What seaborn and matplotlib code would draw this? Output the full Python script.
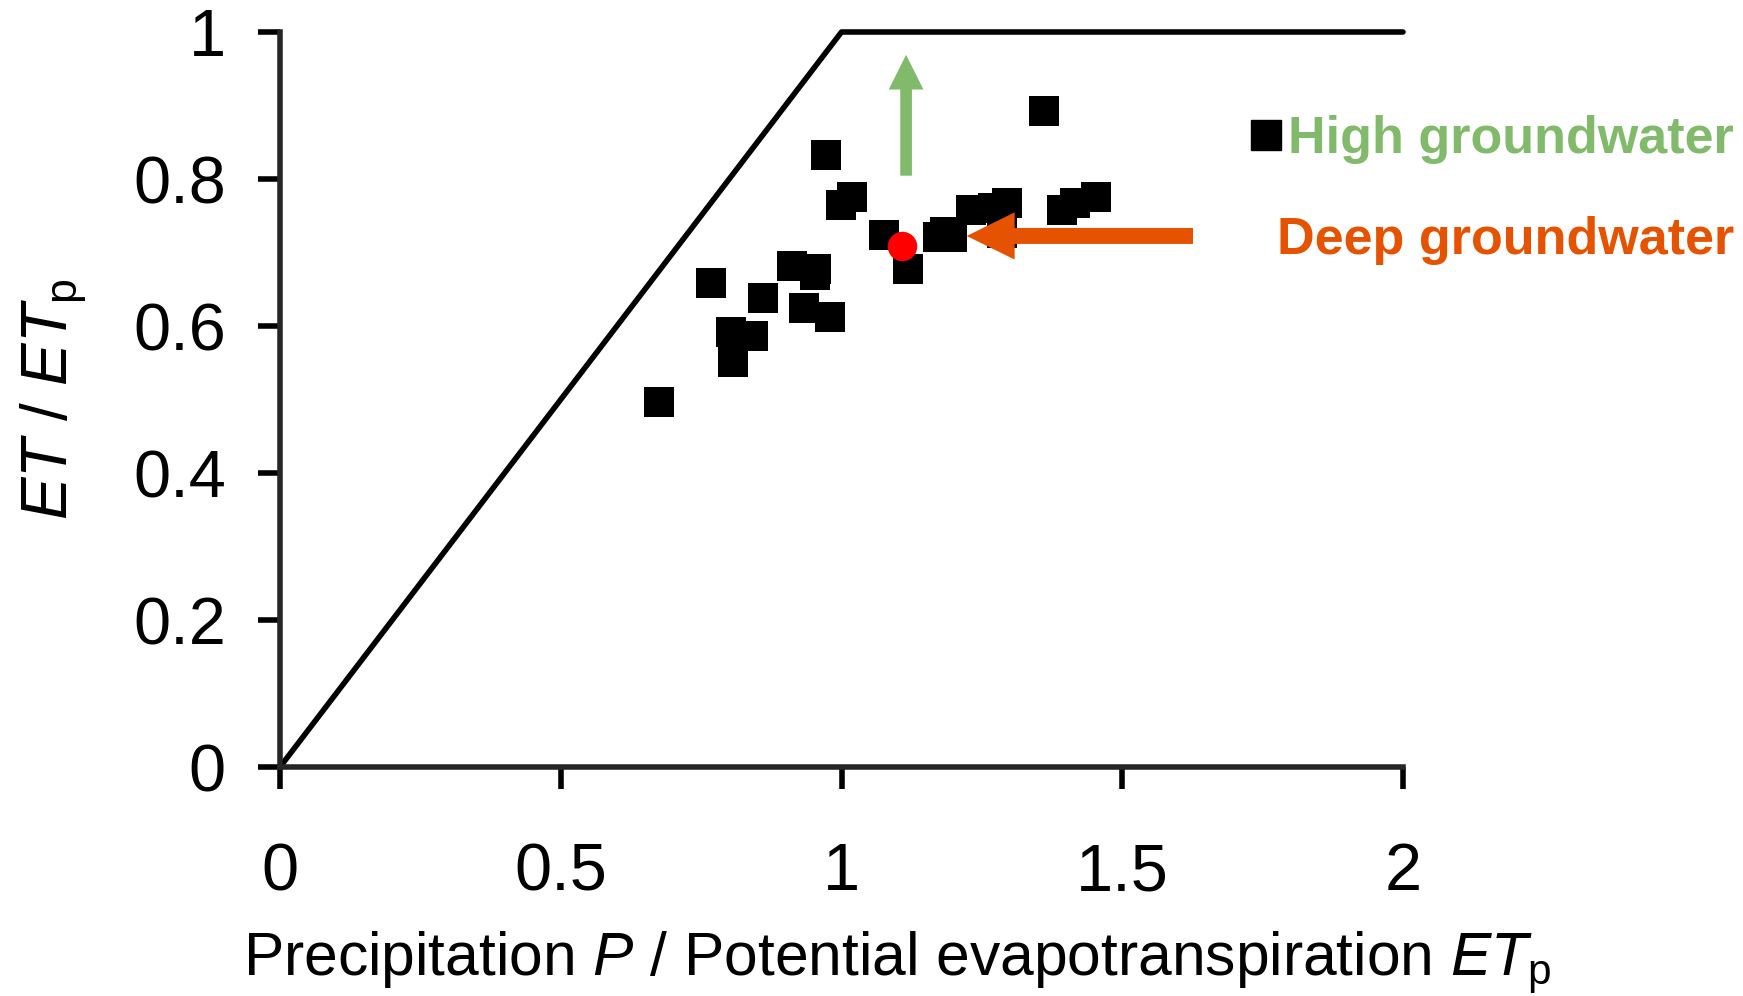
import matplotlib
matplotlib.use("Agg")
import matplotlib.pyplot as plt
from matplotlib import font_manager as fm
from matplotlib.lines import Line2D
import seaborn as sns
import pandas as pd

# ---------------- data ----------------
P_high = [1.361, 0.973, 1.018, 0.999, 1.076, 1.118, 1.172, 1.184, 1.196,
          1.231, 1.269, 1.295, 1.285, 1.392, 1.416, 1.454,
          0.768, 0.860, 0.911, 0.955, 0.953, 0.933, 0.980, 0.803, 0.842,
          0.806, 0.675]
ET_high = [0.893, 0.833, 0.776, 0.764, 0.724, 0.678, 0.721, 0.728, 0.721,
           0.758, 0.761, 0.767, 0.727, 0.758, 0.767, 0.775,
           0.658, 0.638, 0.681, 0.678, 0.669, 0.624, 0.612, 0.592, 0.586,
           0.551, 0.497]
P_deep = [1.107]
ET_deep = [0.709]
P_env = [0, 1, 2]
ET_env = [0, 1, 1]
x_ticks = [0, 0.5, 1, 1.5, 2]
x_ticklabels = ["0", "0.5", "1", "1.5", "2"]
y_ticks = [0, 0.2, 0.4, 0.6, 0.8, 1]
y_ticklabels = ["0", "0.2", "0.4", "0.6", "0.8", "1"]
green_arrow = [(1.115, 0.8045), (1.115, 0.969)]   # tail, tip
orange_arrow = [(1.626, 0.7225), (1.223, 0.7225)]  # tail, tip
legend_labels = ["High groundwater", "Deep groundwater"]

GREEN = "#80BA6A"
ORANGE = "#E65300"


def has_font(name):
    try:
        fm.findfont(fm.FontProperties(family=name), fallback_to_default=False)
        return True
    except Exception:
        return False


NARROW = "Liberation Sans Narrow" if has_font("Liberation Sans Narrow") else "Liberation Sans"
narrow_scale = 1.0 if NARROW == "Liberation Sans Narrow" else 0.855

sns.set_theme(style="ticks")
plt.rcParams["font.family"] = ["Liberation Sans", "DejaVu Sans"]
plt.rcParams["mathtext.fontset"] = "custom"
plt.rcParams["mathtext.rm"] = NARROW
plt.rcParams["mathtext.it"] = NARROW + ":italic"
plt.rcParams["mathtext.bf"] = NARROW + ":bold"

W, H = 1743, 996
fig = plt.figure(figsize=(W / 100, H / 100), dpi=100)
ax = fig.add_axes([280 / W, (H - 767) / H, 1123 / W, 735 / H])

df_env = pd.DataFrame({"P": P_env, "ET": ET_env})
df_high = pd.DataFrame({"P": P_high, "ET": ET_high})
df_deep = pd.DataFrame({"P": P_deep, "ET": ET_deep})

sns.lineplot(data=df_env, x="P", y="ET", sort=False, color="black",
             linewidth=4, ax=ax, clip_on=False, zorder=2)
sns.scatterplot(data=df_high, x="P", y="ET", marker="s", s=455, color="black",
                linewidth=0, ax=ax, zorder=3, clip_on=False)
sns.scatterplot(data=df_deep, x="P", y="ET", marker="o", s=450, color="#FF0000",
                linewidth=0, ax=ax, zorder=5)

for (tail, tip), col, hl, hw, tw in [
    (green_arrow, GREEN, 25, 25, 8.4),
    (orange_arrow, ORANGE, 34.5, 34, 11.5),
]:
    ax.annotate("", xy=tip, xytext=tail, xycoords="data", textcoords="data",
                arrowprops=dict(arrowstyle=f"simple,head_length={hl},head_width={hw},tail_width={tw}",
                                mutation_scale=1, color=col, lw=0,
                                shrinkA=0, shrinkB=0), zorder=6)

ax.set_xlim(0, 2)
ax.set_ylim(0, 1)
ax.set_xticks(x_ticks)
ax.set_xticklabels(x_ticklabels)
ax.set_yticks(y_ticks)
ax.set_yticklabels(y_ticklabels)
for s in ["top", "right"]:
    ax.spines[s].set_visible(False)
ax.spines["left"].set_linewidth(4)
ax.spines["bottom"].set_linewidth(4)
ax.spines["left"].set_bounds(0, 1)
ax.spines["bottom"].set_bounds(0, 2)
ax.tick_params(axis="x", direction="out", length=16, width=4, pad=38,
               labelsize=48, colors="black")
ax.tick_params(axis="y", direction="out", length=16, width=4, pad=23,
               labelsize=48, colors="black")

lab_size = 51 * narrow_scale
ax.set_xlabel(r"Precipitation $P$ / Potential evapotranspiration $ET_\mathrm{p}$",
              fontsize=lab_size, family=NARROW, color="black")
ax.xaxis.set_label_coords((243 - 280) / 1123, (767 - 975) / 735)
ax.xaxis.label.set_ha("left")
ax.xaxis.label.set_va("baseline")

ax.set_ylabel(r"$ET$ / $ET_\mathrm{p}$", fontsize=46, family=NARROW, color="black")
ax.yaxis.set_label_coords((68 - 280) / 1123, 0.5)
ax.yaxis.label.set_va("baseline")
ax.yaxis.label.set_ha("center")

leg_font = fm.FontProperties(family=NARROW, weight="bold",
                             size=41 if NARROW == "Liberation Sans Narrow" else 37.5)
handle = Line2D([], [], marker="s", color="black", linestyle="none", markersize=21.5)
leg = fig.legend(handles=[handle], labels=[legend_labels[0]], loc="center right",
                 bbox_to_anchor=(1734 / W, 1 - 140 / H), bbox_transform=fig.transFigure,
                 frameon=False, borderpad=0, borderaxespad=0, handlelength=0.55,
                 handletextpad=0.15, prop=leg_font)
for t in leg.get_texts():
    t.set_color(GREEN)

fig.text(1734 / W, (H - 254) / H, legend_labels[1], ha="right", va="baseline",
         color=ORANGE, fontproperties=leg_font)

fig.savefig("out.png", dpi=100)
